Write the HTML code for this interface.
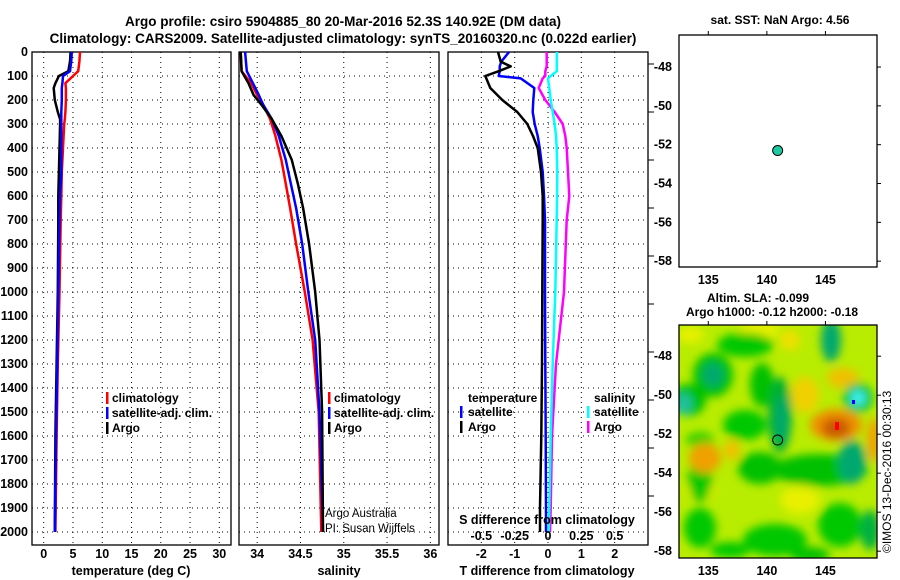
<!DOCTYPE html>
<html><head><meta charset="utf-8">
<style>
html,body{margin:0;padding:0;background:#fff;}
svg{display:block;font-family:"Liberation Sans",sans-serif;font-weight:bold;}
</style></head>
<body>
<svg id="c" width="900" height="580" viewBox="0 0 900 580" xmlns="http://www.w3.org/2000/svg">
<defs>
<filter id="blur" x="-50%" y="-50%" width="200%" height="200%"><feGaussianBlur stdDeviation="4.5"/></filter>
<clipPath id="mapclip"><rect x="679" y="325" width="198" height="233"/></clipPath>
</defs>
<text x="343" y="26" font-size="13.5" text-anchor="middle">Argo profile: csiro 5904885_80 20-Mar-2016 52.3S 140.92E (DM data)</text>
<text x="343" y="43" font-size="13.5" text-anchor="middle">Climatology: CARS2009. Satellite-adjusted climatology: synTS_20160320.nc (0.022d earlier)</text>
<text x="780" y="24" font-size="12" text-anchor="middle">sat. SST: NaN Argo: 4.56</text>
<text x="758" y="302" font-size="12" text-anchor="middle">Altim. SLA: -0.099</text>
<text x="772" y="316" font-size="12" text-anchor="middle">Argo h1000: -0.12 h2000: -0.18</text>
<g id="g"></g>
</svg>
<script>
// ---- data ----
const tDepth = [0, 40, 80, 100, 130, 150, 200, 250, 280, 300, 400, 500, 600, 700, 1000, 1300, 1600, 2000];
const tArgo  = [4.6, 4.5, 4.2, 2.6, 2.0, 1.7, 1.9, 2.4, 2.8, 2.8, 2.7, 2.6, 2.5, 2.5, 2.4, 2.2, 2.0, 1.9];
const tSat   = [4.8, 4.7, 4.5, 3.3, 3.2, 3.1, 3.1, 3.0, 3.0, 3.0, 3.0, 3.0, 2.8, 2.7, 2.5, 2.3, 2.1, 1.9];
const tClim  = [6.2, 6.1, 5.9, 5.0, 3.7, 3.8, 3.8, 3.7, 3.6, 3.5, 3.3, 3.1, 3.0, 2.9, 2.7, 2.4, 2.2, 2.0];

const sDepth = [0, 80, 130, 180, 220, 280, 350, 450, 550, 650, 800, 1000, 1200, 1500, 2000];
const sArgo  = [33.81, 33.82, 33.90, 33.96, 34.05, 34.17, 34.28, 34.40, 34.47, 34.53, 34.60, 34.67, 34.72, 34.75, 34.76];
const sSat   = [33.86, 33.88, 33.95, 34.02, 34.07, 34.17, 34.25, 34.33, 34.39, 34.45, 34.52, 34.59, 34.67, 34.72, 34.76];
const sClim  = [33.81, 33.82, 33.93, 34.00, 34.07, 34.15, 34.21, 34.28, 34.33, 34.38, 34.45, 34.55, 34.64, 34.71, 34.74];

const dDepth = [0, 40, 60, 80, 100, 110, 150, 200, 250, 300, 350, 400, 500, 600, 700, 1000, 1300, 1600, 1900, 2000];
const dTArgo = [-1.5, -1.42, -1.12, -1.48, -1.88, -1.85, -1.73, -1.37, -0.92, -0.62, -0.45, -0.31, -0.21, -0.16, -0.16, -0.17, -0.18, -0.2, -0.24, -0.24];
const dTSat  = [-1.17, -1.4, -1.45, -1.45, -1.48, -0.82, -0.41, -0.44, -0.46, -0.4, -0.31, -0.25, -0.16, -0.12, -0.09, -0.09, -0.08, -0.07, -0.06, -0.06];
const dSArgo = [-0.01, -0.01, -0.01, -0.02, -0.02, -0.04, -0.07, -0.02, 0.05, 0.11, 0.13, 0.14, 0.15, 0.16, 0.14, 0.12, 0.06, 0.03, 0.02, 0.015];
const dSSat  = [0.066, 0.066, 0.066, 0.066, 0.02, 0.0, 0.01, 0.02, 0.035, 0.05, 0.06, 0.065, 0.07, 0.068, 0.065, 0.055, 0.035, 0.02, 0.01, 0.005];

const depthTicks = [0,100,200,300,400,500,600,700,800,900,1000,1100,1200,1300,1400,1500,1600,1700,1800,1900,2000];
const tTicks = [0,5,10,15,20,25,30];
const sTicks = [34,34.5,35,35.5,36];
const sTickLabels = ["34","34.5","35","35.5","36"];
const dTTicks = [-2,-1,0,1,2];
const dSTicks = [-0.5,-0.25,0,0.25,0.5];
const dSTickLabels = ["-0.5","-0.25","0","0.25","0.5"];
const latTicks = [-48,-50,-52,-54,-56,-58];
const lonTicks = [135,140,145];
const argoLon = [140.92];
const argoLat = [-52.3];

// ---- helpers ----
const NS="http://www.w3.org/2000/svg";
const G=document.getElementById('g');
const FS=12.5;
function mk(tag, attrs, parent){const e=document.createElementNS(NS,tag);for(const k in attrs)e.setAttribute(k,attrs[k]);(parent||G).appendChild(e);return e;}
const PT=52, PB=545;
const yD = d => PT + d*0.24;
function panel(x0,x1,xmin,xmax,name){
  const xs = v => x0 + (v-xmin)/(xmax-xmin)*(x1-x0);
  const g=mk('g',{});
  
  
  return {xs,g,x0,x1};
}
function grid(p,xt){
  depthTicks.forEach(d=>{ if(d>0){const l=mk('line',{x1:p.x0,x2:p.x1,y1:yD(d),y2:yD(d),stroke:'#000','stroke-width':1,'stroke-dasharray':'1 4'},p.g);
    
    }});
  xt.forEach(v=>{const x=p.xs(v);const l=mk('line',{x1:x,x2:x,y1:PT,y2:PB,stroke:'#000','stroke-width':1,'stroke-dasharray':'1 4'},p.g);
    
    });
  const r=mk('rect',{x:p.x0,y:PT,width:p.x1-p.x0,height:PB-PT,fill:'none',stroke:'#000','stroke-width':1.3},p.g);
  
  
}
function line(p,xsArr,ds,color,name,w){
  const pts=xsArr.map((v,i)=>p.xs(v).toFixed(1)+','+yD(ds[i]).toFixed(1)).join(' ');
  const l=mk('polyline',{points:pts,fill:'none',stroke:color,'stroke-width':w||2.5,'stroke-linejoin':'round'},p.g);
  
  
}
function txt(s,x,y,attrs,name,parent){const t=mk('text',Object.assign({x:x,y:y,'font-size':FS},attrs||{}),parent);t.textContent=s;
  
  return t;}
function legendMark(x,y,color,parent){const r=mk('rect',{x:x,y:y-10,width:2.5,height:12,fill:color},parent);
  
  }

// depth labels
depthTicks.forEach(d=>txt(String(d),28,yD(d)+4,{'text-anchor':'end'},'y-tick-label'));

// Panel 1 temperature
const p1=panel(32,231,-2,32,'temperature-panel');
grid(p1,tTicks);
line(p1,tClim,tDepth,'#f00','temp-climatology-line');
line(p1,tArgo,tDepth,'#000','temp-argo-line');
line(p1,tSat,tDepth,'#00f','temp-satellite-line');
tTicks.forEach(v=>txt(String(v),p1.xs(v),558,{'text-anchor':'middle'},'x-tick-label',p1.g));
txt('temperature (deg C)',131,575,{'text-anchor':'middle'},'x-axis-title',p1.g);
[['climatology','#f00'],['satellite-adj. clim.','#00f'],['Argo','#000']].forEach((e,i)=>{legendMark(106,402+i*15,e[1],p1.g);txt(e[0],112,402+i*15,{'font-size':12},'legend-entry',p1.g);});

// Panel 2 salinity
const p2=panel(239,439,33.79,36.1,'salinity-panel');
grid(p2,sTicks);
line(p2,sClim,sDepth,'#f00','sal-climatology-line');
line(p2,sSat,sDepth,'#00f','sal-satellite-line');
line(p2,sArgo,sDepth,'#000','sal-argo-line');
sTicks.forEach((v,i)=>txt(sTickLabels[i],p2.xs(v),558,{'text-anchor':'middle'},'x-tick-label',p2.g));
txt('salinity',339,575,{'text-anchor':'middle'},'x-axis-title',p2.g);
[['climatology','#f00'],['satellite-adj. clim.','#00f'],['Argo','#000']].forEach((e,i)=>{legendMark(328,402+i*15,e[1],p2.g);txt(e[0],334,402+i*15,{'font-size':12},'legend-entry',p2.g);});
txt('Argo Australia',325,517,{'font-weight':'normal','font-size':11.5},'credit-text',p2.g);
txt('PI: Susan Wijffels',325,532,{'font-weight':'normal','font-size':11.5},'credit-text',p2.g);

// Panel 3 differences
const p3=panel(448,648,-3,3,'difference-panel');
const p3s=panel(448,648,-0.75,0.75,'sdiff-scale');
p3s.g=p3.g;
grid(p3,dTTicks);
line(p3s,dSArgo,dDepth,'#f0f','sdiff-argo-line');
line(p3s,dSSat,dDepth,'#0ff','sdiff-satellite-line');
line(p3,dTSat,dDepth,'#00f','tdiff-satellite-line');
line(p3,dTArgo,dDepth,'#000','tdiff-argo-line');
dTTicks.forEach(v=>txt(String(v),p3.xs(v),558,{'text-anchor':'middle'},'x-tick-label',p3.g));
dSTicks.forEach((v,i)=>txt(dSTickLabels[i],p3s.xs(v),540,{'text-anchor':'middle'},'s-tick-label',p3.g));
txt('S difference from climatology',547,524,{'text-anchor':'middle'},'s-axis-title',p3.g);
txt('T difference from climatology',547,575,{'text-anchor':'middle'},'x-axis-title',p3.g);
txt('temperature',468,402,{'font-size':12},'legend-header',p3.g);
txt('salinity',594,402,{'font-size':12},'legend-header',p3.g);
legendMark(460,416,'#00f',p3.g);txt('satellite',468,416,{'font-size':12},'legend-entry',p3.g);
legendMark(460,431,'#000',p3.g);txt('Argo',468,431,{'font-size':12},'legend-entry',p3.g);
legendMark(587,416,'#0ff',p3.g);txt('satellite',594,416,{'font-size':12},'legend-entry',p3.g);
legendMark(587,431,'#f0f',p3.g);txt('Argo',594,431,{'font-size':12},'legend-entry',p3.g);
for(let i=1;i<depthTicks.length;i+=2){const l=mk('line',{x1:648,x2:654,y1:yD(depthTicks[i])-12,y2:yD(depthTicks[i])-12,stroke:'#000'},p3.g);
  
  }

// Maps
function map(y0,y1,latTop,latBot,name,heat){
  const x0=679,x1=877,lonL=132.5,lonR=149.4;
  const xs=v=>x0+(v-lonL)/(lonR-lonL)*(x1-x0);
  const ys=v=>y0+(latTop-v)/(latTop-latBot)*(y1-y0);
  const g=mk('g',{});
  
  
  if(heat) heat(g);
  const r=mk('rect',{x:x0,y:y0,width:x1-x0,height:y1-y0,fill:'none',stroke:'#000','stroke-width':1.3},g);
  
  
  latTicks.forEach(v=>{const y=ys(v);txt(String(v),672,y+4,{'text-anchor':'end'},'lat-tick-label',g);
    const l=mk('line',{x1:x1,x2:x1+4,y1:y,y2:y,stroke:'#000'},g);
    
    });
  lonTicks.forEach(v=>{const x=xs(v);txt(String(v),x,y1+17,{'text-anchor':'middle'},'lon-tick-label',g);
    const l=mk('line',{x1:x,x2:x,y1:y0,y2:y0-4,stroke:'#000'},g);
    
    });
  return {xs,ys,g};
}
const m1=map(35,267,-46.35,-58.3,'sst-map');
argoLon.forEach((lo,i)=>{const c=mk('circle',{cx:m1.xs(lo),cy:m1.ys(argoLat[i]),r:5,fill:'#1ec8a0',stroke:'#000','stroke-width':1},m1.g);
  
  });

const m2=map(325,558,-46.4,-58.35,'sla-map',function(g){
  const hg=mk('g',{'clip-path':'url(#mapclip)'},g);
  
  
  mk('rect',{x:679,y:325,width:198,height:233,fill:'#b8ec00'},hg);
  const fg=mk('g',{filter:'url(#blur)'},hg);
  const blobs=[
    [690,335,14,8,'#e8f000'],[760,330,20,8,'#e8f000'],[700,490,16,10,'#e8f000'],[800,500,20,14,'#e8f000'],
    [745,345,28,12,'#00c800'],[713,375,20,22,'#00c000'],[713,375,10,12,'#00a870'],[762,385,12,22,'#00c000'],
    [688,400,18,16,'#00c000'],[684,404,8,11,'#20c0a0'],[745,425,22,15,'#00c800'],[780,415,12,38,'#00b030'],
    [782,420,6,24,'#00a870'],
    [820,470,48,16,'#00c000'],[852,462,14,22,'#00a870'],[700,480,12,22,'#00c800'],[760,468,22,16,'#00c000'],
    [700,528,16,20,'#00c800'],[775,540,32,16,'#00c800'],[840,525,22,22,'#00c800'],[831,340,10,22,'#00a870'],
    [870,530,10,20,'#00b040'],[730,550,20,8,'#00c800'],[700,440,14,8,'#30d000'],[810,555,20,8,'#00c000'],
    [805,395,14,18,'#f0d000'],[705,458,16,15,'#f0a000'],[836,425,26,16,'#f09000'],[836,428,14,10,'#c85800'],
    [843,378,16,10,'#f0c000'],[874,440,7,22,'#f0a000'],[732,450,8,10,'#f0c000'],[790,340,10,10,'#f0e000'],
    [858,398,15,15,'#00c040'],[858,398,8,8,'#40f0f0']
  ];
  blobs.forEach(b=>{const e=mk('ellipse',{cx:b[0],cy:b[1],rx:b[2],ry:b[3],fill:b[4]},fg);
    
    });
  const rd=mk('rect',{x:835,y:422,width:4,height:8,fill:'#f00'},hg);
  
  
  const bl=mk('rect',{x:852,y:400,width:3,height:4,fill:'#00f'},hg);
  
  
});
argoLon.forEach((lo,i)=>{const c=mk('circle',{cx:m2.xs(lo),cy:m2.ys(argoLat[i]),r:5,fill:'none',stroke:'#000','stroke-width':1},m2.g);
  
  });
const cr=txt('©IMOS 13-Dec-2016 00:30:13',0,0,{'font-weight':'normal','font-size':12,transform:'translate(891,553) rotate(-90)'},'copyright-text');
</script>
</body></html>
